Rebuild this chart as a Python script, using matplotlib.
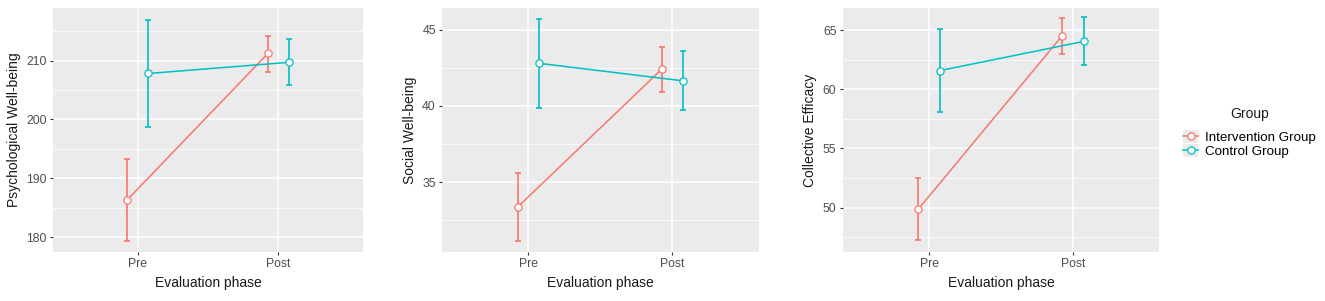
import numpy as np
import matplotlib.pyplot as plt
from matplotlib.lines import Line2D
from matplotlib.patches import Patch
from matplotlib.legend_handler import HandlerTuple
from matplotlib.ticker import MultipleLocator

plt.rcParams['font.family'] = ['Liberation Sans', 'DejaVu Sans']

phases = ['Pre', 'Post']
groups = ['Intervention Group', 'Control Group']
colors = ['#F8766D', '#00BFC4']

# means and error bar limits
psych_mean = [[186.3, 211.2], [207.8, 209.7]]
psych_lo = [[179.4, 208.1], [198.7, 205.8]]
psych_hi = [[193.3, 214.2], [216.8, 213.7]]

social_mean = [[33.36, 42.39], [42.79, 41.64]]
social_lo = [[31.16, 40.92], [39.87, 39.72]]
social_hi = [[35.59, 43.88], [45.70, 43.58]]

coll_mean = [[49.86, 64.52], [61.57, 64.04]]
coll_lo = [[47.22, 62.99], [58.10, 62.05]]
coll_hi = [[52.47, 66.02], [65.06, 66.08]]

panels = [
    ('Psychological Well-being', psych_mean, psych_lo, psych_hi, (177.5, 218.9), 10),
    ('Social Well-being', social_mean, social_lo, social_hi, (30.42, 46.41), 5),
    ('Collective Efficacy', coll_mean, coll_lo, coll_hi, (46.25, 66.85), 5),
]

fig = plt.figure(figsize=(13.25, 3.01), dpi=100)
lefts = [0.040, 0.3336, 0.636]
widths = [0.234, 0.239, 0.239]

x = np.arange(len(phases))
dodge = [-0.075, 0.075]

for (ylabel, mean, lo, hi, ylim, step), left, w in zip(panels, lefts, widths):
    ax = fig.add_axes([left, 0.163, w, 0.81])
    ax.set_facecolor('#EBEBEB')
    for s in ax.spines.values():
        s.set_visible(False)
    ax.yaxis.set_major_locator(MultipleLocator(step))
    ax.yaxis.set_minor_locator(MultipleLocator(step / 2))
    ax.grid(True, which='major', color='white', lw=1.1)
    ax.grid(True, which='minor', axis='y', color='white', lw=0.55)
    ax.set_axisbelow(True)
    for g in range(len(groups)):
        xs = x + dodge[g]
        m = np.array(mean[g])
        yerr = [m - np.array(lo[g]), np.array(hi[g]) - m]
        ax.errorbar(xs, m, yerr=yerr, fmt='none', ecolor=colors[g],
                    elinewidth=1.2, capsize=2.5, capthick=1.2, zorder=3)
        ax.plot(xs, m, color=colors[g], lw=1.1, zorder=4)
        ax.plot(xs, m, 'o', ms=5.2, mfc='white', mec=colors[g], mew=0.9, zorder=5)
    ax.set_xlim(-0.6, 1.6)
    ax.set_ylim(*ylim)
    ax.set_xticks(x)
    ax.set_xticklabels(phases)
    ax.tick_params(axis='both', which='major', length=2.5, width=0.8,
                   color='#333333', labelsize=8.8, labelcolor='#4D4D4D', pad=2)
    ax.tick_params(axis='y', which='minor', length=0)
    ax.set_xlabel('Evaluation phase', fontsize=10, color='#1a1a1a', labelpad=4)
    ax.set_ylabel(ylabel, fontsize=10, color='#1a1a1a', labelpad=4)

handles = [(Patch(facecolor='#EBEBEB', edgecolor='none'),
            Line2D([], [], color=c, lw=1.1, marker='o', ms=5.2, mfc='white', mec=c, mew=0.9))
           for c in colors]
leg = fig.legend(handles, groups, title='Group', loc='center left',
                 bbox_to_anchor=(0.886, 0.56), frameon=False, fontsize=9.6,
                 title_fontsize=10, handlelength=1.1, handleheight=1.1, handletextpad=0.55,
                 labelspacing=0.0, borderpad=0.2,
                 handler_map={tuple: HandlerTuple(ndivide=1, pad=0)})
leg.get_title().set_color('#1a1a1a')
leg._legend_box.sep = 7

fig.savefig('out.png', dpi=100)
